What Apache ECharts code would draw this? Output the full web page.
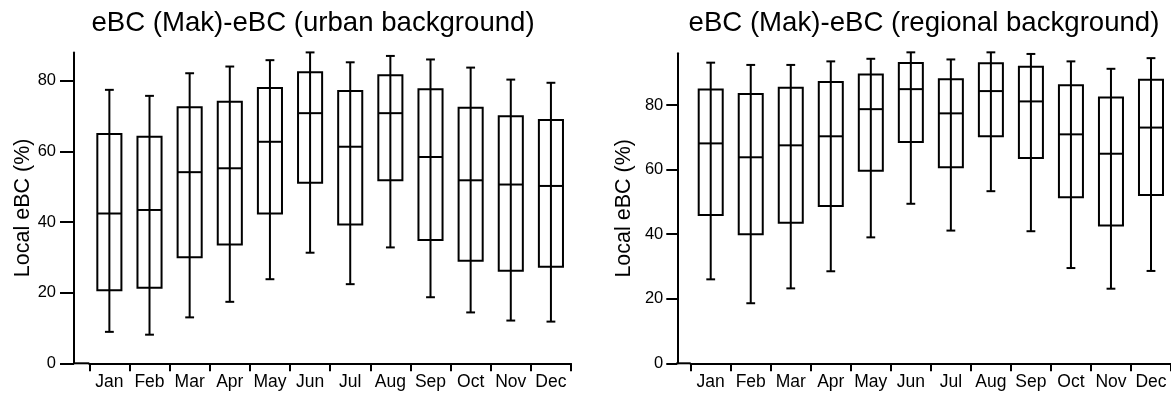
<!DOCTYPE html>
<html>
<head>
<meta charset="utf-8">
<script src="https://cdn.jsdelivr.net/npm/echarts@6/dist/echarts.min.js"></script>
<style>
  html, body { margin: 0; padding: 0; background: #fff; }
  #chart { width: 1171px; height: 394px; }
</style>
</head>
<body>
<div id="chart"></div>
<script>
// Month categories shared by both panels
const months = ['Jan', 'Feb', 'Mar', 'Apr', 'May', 'Jun', 'Jul', 'Aug', 'Sep', 'Oct', 'Nov', 'Dec'];

// Local eBC share (%) relative to the urban background station
const urbanMin    = [8.9, 8.1, 13.0, 17.4, 23.8, 31.3, 22.4, 32.8, 18.7, 14.4, 12.1, 11.8];
const urbanQ1     = [20.7, 21.4, 30.0, 33.6, 42.4, 51.1, 39.3, 51.8, 34.9, 29.0, 26.2, 27.3];
const urbanMedian = [42.4, 43.4, 54.1, 55.2, 62.7, 70.8, 61.3, 70.8, 58.4, 51.8, 50.6, 50.2];
const urbanQ3     = [64.9, 64.1, 72.5, 74.0, 77.9, 82.4, 77.1, 81.5, 77.6, 72.3, 69.9, 68.9];
const urbanMax    = [77.4, 75.7, 82.1, 84.0, 85.8, 88.0, 85.2, 87.0, 86.0, 83.7, 80.3, 79.4];

// Local eBC share (%) relative to the regional background station
const regionalMin    = [26.0, 18.6, 23.2, 28.5, 39.0, 49.4, 41.1, 53.3, 40.9, 29.5, 23.1, 28.6];
const regionalQ1     = [45.9, 40.0, 43.5, 48.7, 59.6, 68.5, 60.7, 70.3, 63.6, 51.4, 42.7, 52.1];
const regionalMedian = [68.1, 63.8, 67.5, 70.3, 78.7, 84.9, 77.4, 84.3, 81.1, 70.9, 64.9, 73.0];
const regionalQ3     = [84.8, 83.4, 85.3, 87.1, 89.4, 93.0, 88.0, 92.9, 91.8, 86.1, 82.3, 87.8];
const regionalMax    = [93.1, 92.4, 92.4, 93.5, 94.3, 96.3, 94.1, 96.3, 95.8, 93.5, 91.2, 94.5];

// Y axis tick labels
const yTicks = [0, 20, 40, 60, 80];

function boxRows(mins, q1s, meds, q3s, maxs) {
  return months.map((m, i) => [i, mins[i], q1s[i], meds[i], q3s[i], maxs[i]]);
}

const FONT = 'Liberation Sans, Arial, sans-serif';
const INK = '#000';

// Box with a single whisker line through it, short caps and a median bar
function renderBox(params, api) {
  const i = api.value(0);
  const band = api.size([1, 0])[0];
  const half = band * 0.3;
  const cap = band * 0.11;
  const pMin = api.coord([i, api.value(1)]);
  const pQ1 = api.coord([i, api.value(2)]);
  const pMed = api.coord([i, api.value(3)]);
  const pQ3 = api.coord([i, api.value(4)]);
  const pMax = api.coord([i, api.value(5)]);
  const x = pMed[0];
  const style = { stroke: INK, lineWidth: 2, fill: null };
  return {
    type: 'group',
    children: [
      { type: 'line', shape: { x1: x, y1: pMax[1], x2: x, y2: pMin[1] }, style },
      { type: 'line', shape: { x1: x - cap, y1: pMax[1], x2: x + cap, y2: pMax[1] }, style },
      { type: 'line', shape: { x1: x - cap, y1: pMin[1], x2: x + cap, y2: pMin[1] }, style },
      { type: 'rect', shape: { x: x - half, y: pQ3[1], width: half * 2, height: pQ1[1] - pQ3[1] },
        style: { stroke: INK, lineWidth: 2, fill: 'rgba(0,0,0,0)' } },
      { type: 'line', shape: { x1: x - half, y1: pMed[1], x2: x + half, y2: pMed[1] }, style }
    ]
  };
}

function xAxisFor(gridIndex) {
  return {
    type: 'category',
    gridIndex,
    data: months,
    boundaryGap: true,
    axisLine: { show: true, lineStyle: { color: INK, width: 2 } },
    axisTick: { show: true, length: 8, inside: false, lineStyle: { color: INK, width: 2 } },
    axisLabel: { color: INK, fontSize: 17.5, fontFamily: FONT, margin: 10, interval: 0 },
    splitLine: { show: false }
  };
}

function yAxisFor(gridIndex, max, offset, nameGap, tickLen, labelMargin) {
  return {
    type: 'value',
    gridIndex,
    min: 0,
    max,
    interval: 20,
    offset,
    name: 'Local eBC (%)',
    nameLocation: 'middle',
    nameGap,
    nameTextStyle: { color: INK, fontSize: 21.5, fontFamily: FONT },
    axisLine: { show: true, lineStyle: { color: INK, width: 2 } },
    axisTick: { show: true, length: tickLen, customValues: yTicks, lineStyle: { color: INK, width: 2 } },
    axisLabel: { color: INK, fontSize: 16.5, fontFamily: FONT, margin: labelMargin, customValues: yTicks },
    splitLine: { show: false }
  };
}

const chart = echarts.init(document.getElementById('chart'));

const option = {
  backgroundColor: '#fff',
  animation: false,
  title: [
    { text: 'eBC (Mak)-eBC (urban background)', left: 313, top: 9, textAlign: 'center', padding: 0,
      textStyle: { color: INK, fontSize: 27.6, fontWeight: 'normal', fontFamily: FONT } },
    { text: 'eBC (Mak)-eBC (regional background)', left: 924, top: 9, textAlign: 'center', padding: 0,
      textStyle: { color: INK, fontSize: 27.6, fontWeight: 'normal', fontFamily: FONT } }
  ],
  grid: [
    { left: 89.3, top: 52.4, width: 481.7, height: 310.9 },
    { left: 690.7, top: 53.3, width: 482.4, height: 310 }
  ],
  xAxis: [xAxisFor(0), xAxisFor(1)],
  yAxis: [yAxisFor(0, 88, 15.3, 40, 14, 18), yAxisFor(1, 96, 13.4, 42, 11, 14)],
  series: [
    {
      type: 'custom', xAxisIndex: 0, yAxisIndex: 0,
      data: boxRows(urbanMin, urbanQ1, urbanMedian, urbanQ3, urbanMax),
      encode: { x: 0, y: [1, 2, 3, 4, 5] },
      renderItem: renderBox
    },
    {
      type: 'custom', xAxisIndex: 1, yAxisIndex: 1,
      data: boxRows(regionalMin, regionalQ1, regionalMedian, regionalQ3, regionalMax),
      encode: { x: 0, y: [1, 2, 3, 4, 5] },
      renderItem: renderBox
    }
  ]
};

chart.setOption(option);

// Extend each x axis line left to meet its offset y axis
function drawAxisJoins() {
  const joins = [];
  [[0, 15.3], [1, 13.4]].forEach(([g, off]) => {
    const origin = chart.convertToPixel({ gridIndex: g }, [0, 0]);
    const rect = chart.getModel().getComponent('grid', g).coordinateSystem.getRect();
    joins.push({
      type: 'line',
      shape: { x1: rect.x - off - 1, y1: origin[1], x2: rect.x, y2: origin[1] },
      style: { stroke: INK, lineWidth: 2 },
      silent: true
    });
  });
  chart.setOption({ graphic: joins });
}
drawAxisJoins();
</script>
</body>
</html>
